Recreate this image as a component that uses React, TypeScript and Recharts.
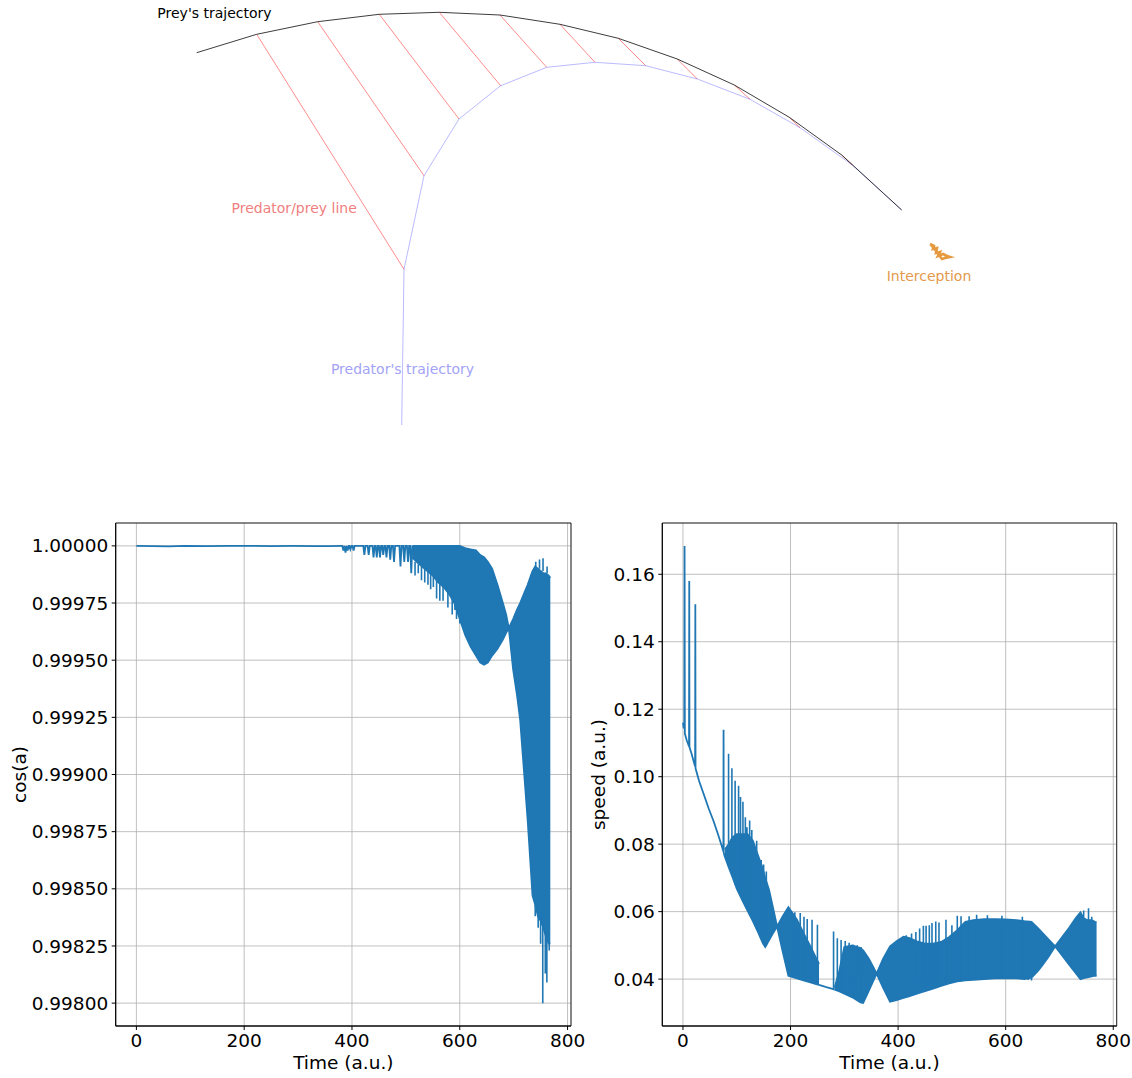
import React from 'react';
import {
  ComposedChart,
  Line,
  Area,
  XAxis,
  YAxis,
  CartesianGrid,
  ReferenceArea,
  ReferenceDot,
} from 'recharts';

const FONT = '"DejaVu Sans", Verdana, sans-serif';
const BLUE = '#1f77b4';

// ---------------- Top panel: trajectories (arbitrary length units) ----------------
const preyX = [-2.033, -1.433, -0.823, -0.207, 0.393, 1.0, 1.6, 2.183, 2.773, 3.343, 3.893, 4.417, 5.017];
const preyY = [3.723, 3.907, 4.033, 4.107, 4.127, 4.1, 4.007, 3.867, 3.66, 3.4, 3.077, 2.7, 2.15];
const predX = [0.017, 0.04, 0.24, 0.59, 1.007, 1.467, 1.95, 2.457, 2.973, 3.5, 4.0, 4.523, 5.017];
const predY = [0.0, 1.557, 2.493, 3.06, 3.393, 3.577, 3.627, 3.593, 3.46, 3.257, 2.973, 2.6, 2.15];
// indices of prey/predator pairs joined by a predator/prey line
const pairIdx = [1, 2, 3, 4, 5, 6, 7, 8, 9, 10, 11];
const interX = [5.3, 5.34, 5.33, 5.37, 5.36, 5.4, 5.38, 5.43, 5.47, 5.5, 5.45, 5.42, 5.39, 5.36, 5.33, 5.31];
const interY = [1.81, 1.79, 1.76, 1.77, 1.72, 1.73, 1.69, 1.71, 1.69, 1.68, 1.67, 1.66, 1.7, 1.74, 1.78, 1.8];
const topLabels = [
  { text: "Prey's trajectory", x: -1.855, y: 4.12, color: '#000000' },
  { text: 'Predator/prey line', x: -1.058, y: 2.17, color: '#f08080' },
  { text: "Predator's trajectory", x: 0.025, y: 0.555, color: '#a3a3f5' },
  { text: 'Interception', x: 5.29, y: 1.49, color: '#e39a4c' },
];

// ---------------- Shared time axis ----------------
const timeTicks = [0, 200, 400, 600, 800];
const timeDomain = [-38.4, 806.4];

// ---------------- cos(a) ----------------
const cosTicks = [0.998, 0.99825, 0.9985, 0.99875, 0.999, 0.99925, 0.9995, 0.99975, 1.0];
const cosDomain = [0.9979, 1.0001];
const cosBaseT = [0, 30, 60, 90, 130, 170, 210, 250, 290, 330, 360, 380];
const cosBaseV = [1.0, 0.999999, 0.999998, 1.0, 0.999999, 1.0, 1.0, 0.999999, 1.0, 0.999999, 0.999999, 1.0];
const cosDipT = [384, 388, 392, 397, 403, 423, 431, 440, 446, 452, 458, 464, 471, 478, 490, 497, 504, 510];
const cosDipV = [0.99998, 0.99997, 0.99998, 0.999985, 0.99998, 0.99996, 0.99996, 0.99995, 0.99995, 0.99995, 0.99996, 0.99995, 0.99994, 0.99993, 0.99991, 0.99993, 0.99993, 0.99988];
const cosBandT = [512, 520, 530, 540, 550, 560, 570, 580, 590, 600, 610, 620, 630, 638, 645, 652, 660, 670, 680, 686, 691, 699, 706, 712, 719, 726, 732, 735, 740, 745, 750, 755, 760, 765, 768];
const cosBandLow = [0.99995, 0.99993, 0.99991, 0.99989, 0.99987, 0.99984, 0.99982, 0.99979, 0.99975, 0.99968, 0.99961, 0.99956, 0.99952, 0.99949, 0.99948, 0.99949, 0.99952, 0.99955, 0.99959, 0.99962, 0.99964, 0.99946, 0.99935, 0.99924, 0.99902, 0.9988, 0.99858, 0.99847, 0.99843, 0.99838, 0.99836, 0.99833, 0.99829, 0.99826, 0.99826];
const cosBandHigh = [1.0, 1.0, 1.0, 1.0, 1.0, 1.0, 1.0, 1.0, 1.0, 1.0, 0.99999, 0.999985, 0.99998, 0.99996, 0.99995, 0.99993, 0.9999, 0.99983, 0.99975, 0.9997, 0.99964, 0.99968, 0.99972, 0.99975, 0.99979, 0.99983, 0.99987, 0.99989, 0.99991, 0.9999, 0.99989, 0.99988, 0.99988, 0.99987, 0.99986];
const cosSpikeT = [517, 523, 529, 535, 541, 546, 551, 557, 563, 569, 578, 586, 591, 594, 600, 740, 745.5, 750, 754, 758.7, 761.6, 766, 741, 748, 754.5, 762];
const cosSpikeFrom = [0.99993, 0.99992, 0.99991, 0.9999, 0.99989, 0.99988, 0.99987, 0.99985, 0.99984, 0.99982, 0.9998, 0.99977, 0.99975, 0.99974, 0.99968, 0.99843, 0.99838, 0.99836, 0.99834, 0.99831, 0.99829, 0.99826, 0.99991, 0.9999, 0.99989, 0.99988];
const cosSpikeTo = [0.99987, 0.99988, 0.99985, 0.99984, 0.99983, 0.99981, 0.99982, 0.99977, 0.99976, 0.99976, 0.99973, 0.9997, 0.99972, 0.99968, 0.99966, 0.99838, 0.99833, 0.99826, 0.998, 0.99813, 0.99809, 0.99823, 0.99993, 0.99994, 0.999946, 0.99991];

// ---------------- speed ----------------
const speedTicks = [0.04, 0.06, 0.08, 0.1, 0.12, 0.14, 0.16];
const speedDomain = [0.0261, 0.1752];
const speedStartT = [0, 1.5, 2.5, 3, 3.5, 7, 11.3, 11.7, 12.1, 16, 20, 22.6, 23, 23.4, 30, 38, 48, 57, 65, 72, 75.2, 75.5, 75.8, 78];
const speedStartV = [0.116, 0.1143, 0.1148, 0.1684, 0.1128, 0.1108, 0.109, 0.158, 0.1088, 0.1068, 0.1045, 0.103, 0.1511, 0.1025, 0.0987, 0.0951, 0.0905, 0.0868, 0.083, 0.0795, 0.0778, 0.1139, 0.0775, 0.0762];
const speedGapT = [253, 265, 278, 282];
const speedGapV = [0.0383, 0.0377, 0.0371, 0.0369];
const speedBand1T = [78, 85, 92, 100, 110, 120, 130, 140, 148, 153, 160, 167, 175, 185, 196, 212, 224, 237, 246, 253];
const speedBand1Low = [0.0762, 0.0732, 0.0703, 0.0668, 0.0635, 0.0603, 0.0572, 0.0538, 0.0508, 0.0495, 0.0515, 0.0535, 0.0556, 0.0485, 0.041, 0.0402, 0.0396, 0.039, 0.0386, 0.0383];
const speedBand1High = [0.0785, 0.08, 0.082, 0.083, 0.083, 0.083, 0.081, 0.0765, 0.073, 0.07, 0.0665, 0.0615, 0.0556, 0.0585, 0.0613, 0.0576, 0.0537, 0.0497, 0.0467, 0.0445];
const speedBand2T = [282, 290, 300, 315, 330, 335, 345, 353, 360, 372, 385, 397, 410, 420, 435, 450, 465, 480, 495, 510, 525, 540, 560, 580, 600, 620, 635, 648, 660, 670, 680, 692, 705, 718, 730, 739, 745, 752, 760, 766, 769];
const speedBand2Low = [0.0369, 0.0364, 0.0357, 0.0346, 0.0331, 0.0329, 0.0364, 0.0392, 0.0416, 0.0375, 0.0333, 0.0338, 0.0344, 0.0349, 0.0357, 0.0364, 0.0372, 0.038, 0.0387, 0.0393, 0.0396, 0.0398, 0.04, 0.0402, 0.0403, 0.0402, 0.04, 0.0404, 0.0424, 0.0445, 0.0467, 0.0497, 0.047, 0.0443, 0.0418, 0.04, 0.0403, 0.0405, 0.0408, 0.041, 0.041];
const speedBand2High = [0.0375, 0.042, 0.0495, 0.05, 0.0492, 0.0485, 0.0462, 0.0438, 0.0416, 0.046, 0.0497, 0.0512, 0.0526, 0.0522, 0.0512, 0.0505, 0.0505, 0.051, 0.0525, 0.0545, 0.057, 0.0575, 0.0578, 0.0578, 0.0577, 0.0575, 0.0572, 0.057, 0.0551, 0.0534, 0.0517, 0.0497, 0.0525, 0.0552, 0.058, 0.0598, 0.058, 0.0575, 0.0575, 0.057, 0.0568];
const speedSpikeT = [
  84.8, 91, 97, 103.4, 107, 111.5, 116, 119, 124, 128, 137, 145.5, 150, 155,
  203, 208, 218, 225, 231, 240, 250,
  280, 287, 294, 301.7, 309, 317, 324, 331,
  415, 425, 433, 440, 447, 452, 458, 463, 470, 476, 489, 500, 510, 517, 532, 546, 566, 593, 631, 642, 648,
  740, 745, 754, 760,
];
const speedSpikeFrom = [
  0.0735, 0.0708, 0.068, 0.0658, 0.0648, 0.0632, 0.0616, 0.0605, 0.059, 0.0578, 0.0548, 0.052, 0.0502, 0.0498,
  0.0406, 0.0404, 0.0399, 0.0396, 0.0393, 0.0389, 0.0385,
  0.037, 0.0366, 0.0361, 0.0356, 0.035, 0.0344, 0.0338, 0.0331,
  0.0347, 0.0352, 0.0356, 0.0359, 0.0363, 0.0365, 0.0368, 0.0371, 0.0375, 0.0378, 0.0386, 0.039, 0.0393, 0.0394, 0.0397, 0.0399, 0.04, 0.0403, 0.04, 0.0402, 0.0404,
  0.04, 0.058, 0.0575, 0.0575,
];
const speedSpikeTo = [
  0.1068, 0.1025, 0.0988, 0.0973, 0.094, 0.0926, 0.088, 0.085, 0.087, 0.0842, 0.081, 0.0753, 0.074, 0.0719,
  0.06, 0.0598, 0.0596, 0.0585, 0.0578, 0.0576, 0.0561,
  0.0541, 0.0521, 0.0516, 0.0513, 0.0508, 0.0502, 0.05, 0.0495,
  0.053, 0.0535, 0.054, 0.055, 0.0558, 0.0558, 0.056, 0.0566, 0.0571, 0.0568, 0.0576, 0.056, 0.0588, 0.0586, 0.0586, 0.0591, 0.0589, 0.0588, 0.0585, 0.0397, 0.0396,
  0.0398, 0.0603, 0.061, 0.0585,
];

// ---------------- builders ----------------
const toLine = (T: number[], V: number[]) => T.map((t, i) => ({ t, v: V[i] }));
const toBand = (T: number[], L: number[], H: number[]) => T.map((t, i) => ({ t, r: [L[i], H[i]] }));
const toSpikes = (T: number[], F: number[], To: number[]) =>
  T.flatMap((t, i) => [{ t, v: F[i] as number | null }, { t, v: To[i] as number | null }, { t, v: null as number | null }]);

const preyData = preyX.map((x, i) => ({ x, y: preyY[i] }));
const predData = predX.map((x, i) => ({ x, y: predY[i] }));
const pairData = pairIdx.flatMap((i) => [
  { x: preyX[i], y: preyY[i] as number | null },
  { x: predX[i], y: predY[i] as number | null },
  { x: predX[i], y: null as number | null },
]);
const interData = interX.map((x, i) => ({ x, y: interY[i] }));

const cosLineData = [
  ...toLine(cosBaseT, cosBaseV),
  ...cosDipT.flatMap((t, i) => [{ t: t - 2, v: 1.0 }, { t, v: cosDipV[i] }, { t: t + 2, v: 1.0 }]),
];
const cosBandData = toBand(cosBandT, cosBandLow, cosBandHigh);
const cosSpikeData = toSpikes(cosSpikeT, cosSpikeFrom, cosSpikeTo);

const speedStartData = toLine(speedStartT, speedStartV);
const speedGapData = toLine(speedGapT, speedGapV);
const speedBand1Data = toBand(speedBand1T, speedBand1Low, speedBand1High);
const speedBand2Data = toBand(speedBand2T, speedBand2Low, speedBand2High);
const speedSpikeData = toSpikes(speedSpikeT, speedSpikeFrom, speedSpikeTo);

const tickStyle = { fill: '#000000', fontSize: 18.5, fontFamily: FONT };
const LW = 1.8;

export default function App() {
  return (
    <div
      style={{
        position: 'absolute',
        left: 0,
        top: 0,
        width: 1132,
        height: 1078,
        background: '#ffffff',
        fontFamily: FONT,
        overflow: 'hidden',
      }}
    >
      {/* Top: trajectories */}
      <div style={{ position: 'absolute', left: 0, top: 0 }}>
        <ComposedChart width={1132} height={450} margin={{ top: 0, right: 0, bottom: 0, left: 0 }}>
          <XAxis type="number" dataKey="x" domain={[-4, 7.32]} hide allowDataOverflow />
          <YAxis type="number" domain={[-0.25, 4.25]} hide allowDataOverflow />
          <Line data={pairData} dataKey="y" type="linear" stroke="#ff0000" strokeOpacity={0.5} strokeWidth={0.9} dot={false} activeDot={false} isAnimationActive={false} />
          <Line data={predData} dataKey="y" type="linear" stroke="#0000ff" strokeOpacity={0.3} strokeWidth={0.9} dot={false} activeDot={false} isAnimationActive={false} />
          <Line data={preyData} dataKey="y" type="linear" stroke="#000000" strokeOpacity={0.85} strokeWidth={0.9} dot={false} activeDot={false} isAnimationActive={false} />
          <Line data={interData} dataKey="y" type="linear" stroke="#e69a40" strokeWidth={2.6} dot={false} activeDot={false} isAnimationActive={false} />
          {topLabels.map((l) => (
            <ReferenceDot
              key={l.text}
              x={l.x}
              y={l.y}
              r={0}
              fill="none"
              stroke="none"
              ifOverflow="visible"
              label={{ value: l.text, position: 'center', fill: l.color, fontSize: 14, fontFamily: FONT }}
            />
          ))}
        </ComposedChart>
      </div>

      {/* Bottom left: cos(a) */}
      <div style={{ position: 'absolute', left: 0, top: 510 }}>
        <ComposedChart width={600} height={568} margin={{ top: 13, right: 29, bottom: 0, left: 0 }}>
          <CartesianGrid stroke="#b0b0b0" strokeWidth={0.8} />
          <XAxis
            type="number"
            dataKey="t"
            domain={timeDomain}
            ticks={timeTicks}
            interval={0}
            allowDataOverflow
            height={52}
            tick={tickStyle}
            tickSize={4}
            tickMargin={3.5}
            stroke="#000000"
            label={{ value: 'Time (a.u.)', position: 'insideBottom', offset: 9, fill: '#000000', fontSize: 18.5, fontFamily: FONT }}
          />
          <YAxis
            type="number"
            domain={cosDomain}
            ticks={cosTicks}
            interval={0}
            allowDataOverflow
            width={115.7}
            tick={tickStyle}
            tickSize={4}
            tickMargin={3.5}
            stroke="#000000"
            tickFormatter={(v: number) => v.toFixed(5)}
            label={{ value: 'cos(a)', angle: -90, position: 'insideLeft', offset: 19, fill: '#000000', fontSize: 18.5, fontFamily: FONT, style: { textAnchor: 'middle' } }}
          />
          <Area data={cosBandData} dataKey="r" type="linear" stroke={BLUE} strokeWidth={LW} fill={BLUE} fillOpacity={1} dot={false} activeDot={false} isAnimationActive={false} />
          <Line data={cosLineData} dataKey="v" type="linear" stroke={BLUE} strokeWidth={LW} dot={false} activeDot={false} isAnimationActive={false} />
          <Line data={cosSpikeData} dataKey="v" type="linear" stroke={BLUE} strokeWidth={1.6} dot={false} activeDot={false} isAnimationActive={false} />
          <ReferenceArea x1={timeDomain[0]} x2={timeDomain[1]} y1={cosDomain[0]} y2={cosDomain[1]} fill="none" fillOpacity={0} stroke="#000000" strokeWidth={0.8} strokeOpacity={1} ifOverflow="visible" />
        </ComposedChart>
      </div>

      {/* Bottom right: speed */}
      <div style={{ position: 'absolute', left: 580, top: 510 }}>
        <ComposedChart width={552} height={568} margin={{ top: 13, right: 15.3, bottom: 0, left: 0 }}>
          <CartesianGrid stroke="#b0b0b0" strokeWidth={0.8} />
          <XAxis
            type="number"
            dataKey="t"
            domain={timeDomain}
            ticks={timeTicks}
            interval={0}
            allowDataOverflow
            height={52}
            tick={tickStyle}
            tickSize={4}
            tickMargin={3.5}
            stroke="#000000"
            label={{ value: 'Time (a.u.)', position: 'insideBottom', offset: 9, fill: '#000000', fontSize: 18.5, fontFamily: FONT }}
          />
          <YAxis
            type="number"
            domain={speedDomain}
            ticks={speedTicks}
            interval={0}
            allowDataOverflow
            width={82.3}
            tick={tickStyle}
            tickSize={4}
            tickMargin={3.5}
            stroke="#000000"
            tickFormatter={(v: number) => v.toFixed(2)}
            label={{ value: 'speed (a.u.)', angle: -90, position: 'insideLeft', offset: 18, fill: '#000000', fontSize: 18.5, fontFamily: FONT, style: { textAnchor: 'middle' } }}
          />
          <Area data={speedBand1Data} dataKey="r" type="linear" stroke={BLUE} strokeWidth={LW} fill={BLUE} fillOpacity={1} dot={false} activeDot={false} isAnimationActive={false} />
          <Area data={speedBand2Data} dataKey="r" type="linear" stroke={BLUE} strokeWidth={LW} fill={BLUE} fillOpacity={1} dot={false} activeDot={false} isAnimationActive={false} />
          <Line data={speedStartData} dataKey="v" type="linear" stroke={BLUE} strokeWidth={LW} dot={false} activeDot={false} isAnimationActive={false} />
          <Line data={speedGapData} dataKey="v" type="linear" stroke={BLUE} strokeWidth={LW} dot={false} activeDot={false} isAnimationActive={false} />
          <Line data={speedSpikeData} dataKey="v" type="linear" stroke={BLUE} strokeWidth={1.6} dot={false} activeDot={false} isAnimationActive={false} />
          <ReferenceArea x1={timeDomain[0]} x2={timeDomain[1]} y1={speedDomain[0]} y2={speedDomain[1]} fill="none" fillOpacity={0} stroke="#000000" strokeWidth={0.8} strokeOpacity={1} ifOverflow="visible" />
        </ComposedChart>
      </div>
    </div>
  );
}
